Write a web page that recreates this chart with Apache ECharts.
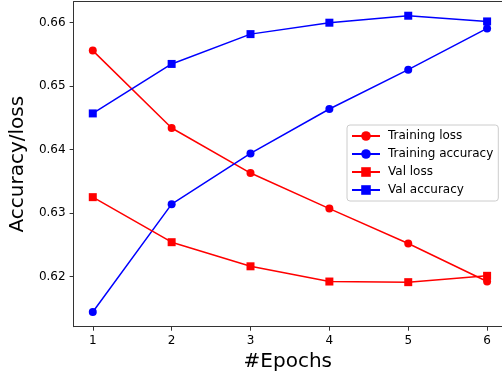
<!DOCTYPE html>
<html>
<head>
<meta charset="utf-8">
<script src="https://cdn.jsdelivr.net/npm/echarts@6/dist/echarts.min.js"></script>
<style>
html,body{margin:0;padding:0;background:#fff;}
#chart{width:502px;height:377px;}
</style>
</head>
<body>
<div id="chart"></div>
<script>
const epochs = [1, 2, 3, 4, 5, 6];
const trainingLoss = [0.6556, 0.6434, 0.6363, 0.6307, 0.6252, 0.6192];
const trainingAccuracy = [0.6144, 0.6314, 0.6394, 0.6464, 0.6526, 0.6591];
const valLoss = [0.6325, 0.6254, 0.6216, 0.6192, 0.6191, 0.6201];
const valAccuracy = [0.6457, 0.6535, 0.6582, 0.6600, 0.6611, 0.6602];
const xTicks = [1, 2, 3, 4, 5, 6];
const yTicks = [0.62, 0.63, 0.64, 0.65, 0.66];

const FONT = 'DejaVu Sans';
const AX = '#333';

function pairs(vals) { return epochs.map((e, i) => [e, vals[i]]); }

function mk(name, vals, color, symbol) {
  return {
    name: name, type: 'line', data: pairs(vals),
    symbol: symbol, symbolSize: 8,
    lineStyle: { color: color, width: 1.5 },
    itemStyle: { color: color },
    animation: false, silent: true
  };
}

const chart = echarts.init(document.getElementById('chart'), null, { renderer: 'canvas' });
chart.setOption({
  animation: false,
  grid: { left: 70, top: 1.7, right: 0, bottom: 50.3, containLabel: false },
  xAxis: [{
    type: 'value', min: 0.757, max: 6.189,
    name: '#Epochs', nameLocation: 'middle', nameGap: 25,
    nameTextStyle: { fontFamily: FONT, fontSize: 20, color: '#000' },
    axisLine: { show: true, onZero: false, lineStyle: { color: AX, width: 1 } },
    axisTick: { show: true, inside: false, length: 4, customValues: xTicks, lineStyle: { color: AX } },
    axisLabel: { customValues: xTicks, margin: 8, fontFamily: FONT, fontSize: 12, color: '#000' },
    splitLine: { show: false }
  }, {
    type: 'value', position: 'top', min: 0.757, max: 6.189,
    axisLine: { show: true, onZero: false, lineStyle: { color: AX, width: 1 } },
    axisTick: { show: false }, axisLabel: { show: false }, splitLine: { show: false }
  }],
  yAxis: {
    type: 'value', min: 0.61208, max: 0.66331,
    name: 'Accuracy/loss', nameLocation: 'middle', nameGap: 43,
    nameTextStyle: { fontFamily: FONT, fontSize: 20, color: '#000' },
    axisLine: { show: true, onZero: false, lineStyle: { color: AX, width: 1 } },
    axisTick: { show: true, inside: false, length: 4, customValues: yTicks, lineStyle: { color: AX } },
    axisLabel: { customValues: yTicks, margin: 8, fontFamily: FONT, fontSize: 12, color: '#000',
      formatter: v => v.toFixed(2) },
    splitLine: { show: false }
  },
  legend: {
    orient: 'vertical', left: 347, top: 125,
    padding: [5, 5, 5, 4],
    itemWidth: 28, itemHeight: 12, itemGap: 6,
    backgroundColor: 'rgba(255,255,255,0.8)',
    borderColor: '#ccc', borderWidth: 1, borderRadius: 3,
    textStyle: { fontFamily: FONT, fontSize: 12, color: '#000', padding: [0, 0, 0, 3] },
    data: ['Training loss', 'Training accuracy', 'Val loss', 'Val accuracy']
  },
  series: [
    mk('Training loss', trainingLoss, '#ff0000', 'circle'),
    mk('Training accuracy', trainingAccuracy, '#0000ff', 'circle'),
    mk('Val loss', valLoss, '#ff0000', 'rect'),
    mk('Val accuracy', valAccuracy, '#0000ff', 'rect')
  ]
});
</script>
</body>
</html>
